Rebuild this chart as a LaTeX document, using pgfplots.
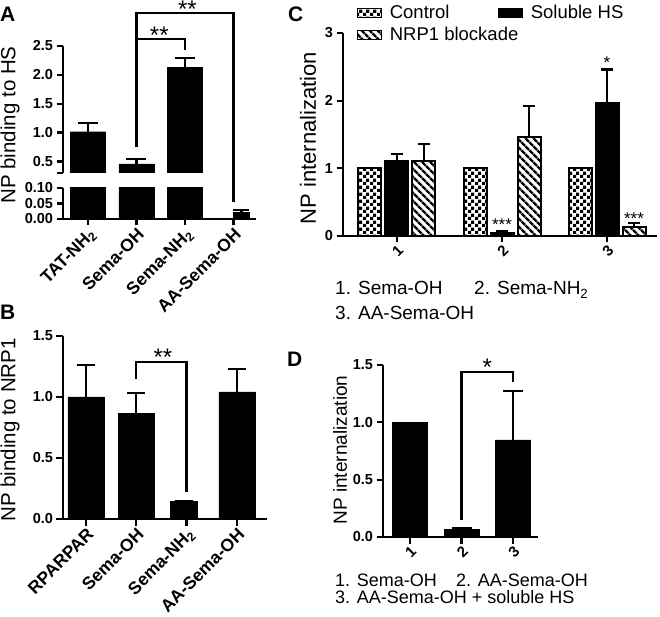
\documentclass[border=0pt]{standalone}
\usepackage{fontspec}
\setmainfont{Liberation Sans}
\usepackage{pgfplots}
\pgfplotsset{compat=1.18}
\usetikzlibrary{patterns,patterns.meta}

\tikzdeclarepattern{
  name=checker,
  type=uncolored,
  bounding box={(0bp,0bp) and (6.6bp,6.6bp)},
  tile size={(6.6bp,6.6bp)},
  code={
    \fill (0bp,0bp) rectangle (3.3bp,3.3bp);
    \fill (3.3bp,3.3bp) rectangle (6.6bp,6.6bp);
  }
}

\newcommand{\fs}[1]{\fontsize{#1}{#1}\selectfont}
\newcommand{\xl}[1]{{\fs{17.5bp}\bfseries #1}}
\newcommand{\xn}[1]{{\fs{15bp}\bfseries #1}}
\pgfplotsset{
  mybase/.style={
    scale only axis,
    anchor=south west,
    axis y line=left, axis x line=bottom,
    axis line style={-, line width=2.2bp, black},
    tick align=outside,
    major tick length=6.5bp,
    tick style={line width=2.2bp, black},
    /pgf/number format/assume math mode=true,
    yticklabel style={font=\fs{14.5bp}\bfseries},
    xticklabel style={rotate=45, anchor=north east, inner sep=1bp},
    ybar,
    clip mode=individual,
    enlargelimits=false,
  },
  onedec/.style={yticklabel style={/pgf/number format/.cd, fixed, fixed zerofill, precision=1}},
  errs/.style={error bars/.cd, y dir=plus, y explicit,
    error bar style={line width=2.2bp, black},
    error mark options={rotate=90, mark size=#1, line width=2.2bp, black},
    /pgfplots/.cd},
  boxleg/.style={legend image code/.code={\draw[##1, line width=1bp] (0bp,-4.5bp) rectangle (24bp,4.5bp);}},
}

\begin{document}
\begin{tikzpicture}
\useasboundingbox (0bp,0bp) rectangle (660bp,617bp);

% ---------------- Panel A (upper part)
\begin{axis}[mybase, at={(63bp,444bp)}, width=193bp, height=127bp,
  xmin=-0.515, xmax=3.464, ymin=0.3, ymax=2.5, axis x line=none,
  ytick={0.5,1,1.5,2,2.5}, onedec, extra y ticks={0.3}, extra y tick labels={},
  bar width=35bp]
\addplot[fill=black, draw=black, bar shift=0pt, errs=10bp]
  coordinates {(0,1.015) +- (0,0.145) (1,0.456) +- (0,0.081) (2,2.124) +- (0,0.163)};
\draw[line width=2.2bp] (axis cs:1,0.75) -- (axis cs:1,3.07) -- (axis cs:3,3.07) -- (axis cs:3,-0.2);
\draw[line width=2.2bp] (axis cs:1,2.62) -- (axis cs:2,2.62) -- (axis cs:2,2.43);
\node[font=\fs{24bp}, anchor=base, inner sep=0pt, yshift=-4bp] at (axis cs:1.47,2.62) {**};
\node[font=\fs{24bp}, anchor=base, inner sep=0pt, yshift=-4bp] at (axis cs:2.05,3.07) {**};
\end{axis}

% ---------------- Panel A (lower part)
\begin{axis}[mybase, at={(63bp,398bp)}, width=193bp, height=31bp,
  xmin=-0.515, xmax=3.464, ymin=0, ymax=0.1,
  ytick={0,0.05,0.1}, yticklabel style={/pgf/number format/.cd, fixed, fixed zerofill, precision=2},
  xtick={0,1,2,3},
  xticklabels={\xl{TAT-NH\textsubscript{2}}, \xl{Sema-OH}, \xl{Sema-NH\textsubscript{2}}, \xl{AA-Sema-OH}},
  bar width=35bp]
\addplot[fill=black, draw=black, bar shift=0pt] coordinates {(0,1.015) (1,0.456) (2,2.124)};
\addplot[fill=black, draw=black, bar shift=8bp, bar width=16bp, errs=8bp]
  coordinates {(3,0.0216) +- (0,0.007)};
\end{axis}
\node[rotate=90, font=\fs{20.5bp}] at (10bp,492bp) {NP binding to HS};

% ---------------- Panel B
\begin{axis}[mybase, at={(63bp,98bp)}, width=204bp, height=183bp,
  xmin=-0.457, xmax=3.6, ymin=0, ymax=1.5,
  ytick={0,0.5,1,1.5}, onedec,
  xtick={0,1,2,3},
  xticklabels={\xl{RPARPAR}, \xl{Sema-OH}, \xl{Sema-NH\textsubscript{2}}, \xl{AA-Sema-OH}},
  bar width=36bp]
\addplot[fill=black, draw=black, bar shift=0pt, errs=9bp]
  coordinates {(0,1.0) +- (0,0.262) (1,0.866) +- (0,0.169) (3,1.043) +- (0,0.189)};
\addplot[fill=black, draw=black, bar shift=-3bp, bar width=27bp, errs=9bp]
  coordinates {(2,0.142) +- (0,0.008)};
\draw[line width=2.2bp] (axis cs:1,1.148) -- (axis cs:1,1.287) -- (axis cs:2,1.287) -- (axis cs:2,0.221);
\node[font=\fs{24bp}, anchor=base, inner sep=0pt, yshift=-4bp] at (axis cs:1.53,1.287) {**};
\end{axis}
\node[rotate=90, font=\fs{20.5bp}] at (10bp,187bp) {NP binding to NRP1};

% ---------------- Panel C
\begin{axis}[mybase, at={(343bp,381bp)}, width=314bp, height=203bp,
  xmin=0.486, xmax=3.476, ymin=0, ymax=3,
  ytick={0,1,2,3}, xtick={1,2,3}, xticklabels={\xn{1},\xn{2},\xn{3}}, bar width=23bp,
  legend columns=2,
  legend cell align=left,
  legend style={at={(0.045,1.145)}, anchor=north west, draw=none, fill=none,
    font=\fs{18.5bp}, inner sep=0pt, row sep=4bp,
    nodes={inner sep=1.5bp}}]
\addplot[pattern=checker, draw=black, line width=2bp, bar shift=-27bp, boxleg]
  coordinates {(1,1) (2,1) (3,1)};
\addlegendentry{\makebox[113bp][l]{\hspace{6bp}Control}}
\addplot[fill=black, draw=black, line width=2bp, bar shift=0bp, boxleg, errs=6bp]
  coordinates {(1,1.108) +- (0,0.10) (2,0.045) +- (0,0.02) (3,1.96) +- (0,0.50)};
\addlegendentry{\hspace{6bp}Soluble HS}
\addplot[pattern={Lines[angle=-45,distance=6bp,line width=3bp]}, draw=black, line width=2bp, bar shift=27bp, boxleg, errs=6bp]
  coordinates {(1,1.108) +- (0,0.252) (2,1.467) +- (0,0.453) (3,0.137) +- (0,0.053)};
\addlegendentry{\makebox[0pt][l]{\hspace{6bp}NRP1 blockade}}
\node[font=\fs{17bp}, anchor=base, inner sep=0pt, yshift=-1bp] at (axis cs:2,0.096) {***};
\node[font=\fs{17bp}, anchor=base, inner sep=0pt, yshift=-1bp] at (axis cs:3,2.49) {*};
\node[font=\fs{17bp}, anchor=base, inner sep=0pt, yshift=-1bp] at (axis cs:3.257,0.18) {***};
\end{axis}
\node[rotate=90, font=\fs{22bp}] at (308bp,479bp) {NP internalization};
\node[anchor=base west, inner sep=0pt, font=\fs{19bp}] at (335bp,322bp) {1. Sema-OH};
\node[anchor=base west, inner sep=0pt, font=\fs{19bp}] at (474bp,322bp) {2. Sema-NH\textsubscript{2}};
\node[anchor=base west, inner sep=0pt, font=\fs{19bp}] at (335bp,297bp) {3. AA-Sema-OH};

% ---------------- Panel D
\begin{axis}[mybase, at={(383bp,80bp)}, width=155bp, height=172bp,
  xmin=0.476, xmax=3.485, ymin=0, ymax=1.5,
  ytick={0,0.5,1,1.5}, onedec, xtick={1,2,3}, xticklabels={\xn{1},\xn{2},\xn{3}}, bar width=35bp]
\addplot[fill=black, draw=black, bar shift=0pt] coordinates {(1,1.0)};
\addplot[fill=black, draw=black, bar shift=0pt, errs=10bp]
  coordinates {(2,0.067) +- (0,0.011) (3,0.846) +- (0,0.427)};
\draw[line width=2.2bp] (axis cs:2,0.148) -- (axis cs:2,1.439) -- (axis cs:3,1.439) -- (axis cs:3,1.35);
\node[font=\fs{24bp}, anchor=base, inner sep=0pt, yshift=-4bp] at (axis cs:2.5,1.439) {*};
\end{axis}
\node[rotate=90, font=\fs{19bp}] at (340bp,167bp) {NP internalization};
\node[anchor=base west, inner sep=0pt, font=\fs{18bp}] at (335bp,31bp) {1. Sema-OH};
\node[anchor=base west, inner sep=0pt, font=\fs{18bp}] at (456bp,31bp) {2. AA-Sema-OH};
\node[anchor=base west, inner sep=0pt, font=\fs{18bp}] at (335bp,14bp) {3. AA-Sema-OH + soluble HS};

% ---------------- Panel letters
\node[anchor=base west, inner sep=0pt, font=\fs{21bp}\bfseries] at (0bp,595bp) {A};
\node[anchor=base west, inner sep=0pt, font=\fs{21bp}\bfseries] at (0bp,297bp) {B};
\node[anchor=base west, inner sep=0pt, font=\fs{21bp}\bfseries] at (288bp,595bp) {C};
\node[anchor=base west, inner sep=0pt, font=\fs{21bp}\bfseries] at (287bp,250bp) {D};
\end{tikzpicture}
\end{document}
